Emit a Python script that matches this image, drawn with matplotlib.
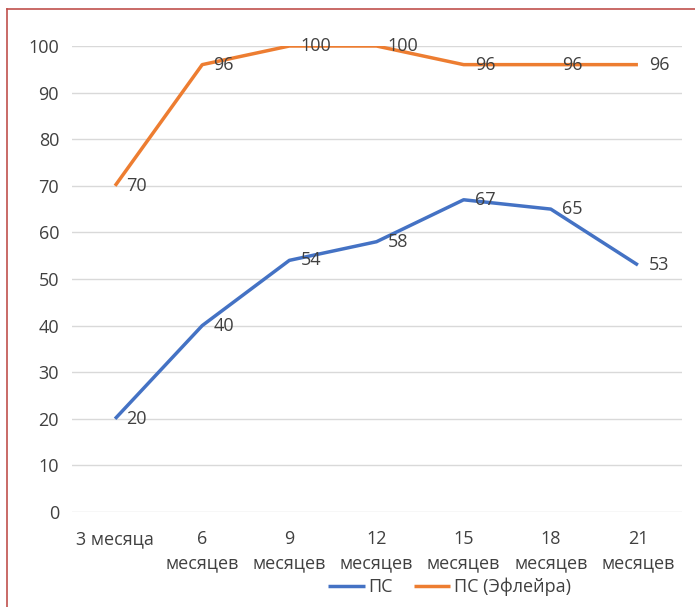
import matplotlib.pyplot as plt
from matplotlib.lines import Line2D

plt.rcParams['font.family'] = ['Open Sans', 'DejaVu Sans']

# Подписи по оси X и значения рядов
periods = ['3 месяца', '6\nмесяцев', '9\nмесяцев', '12\nмесяцев',
           '15\nмесяцев', '18\nмесяцев', '21\nмесяцев']
ps = [20, 40, 54, 58, 67, 65, 53]
ps_efleira = [70, 96, 100, 100, 96, 96, 96]

blue = '#4472C4'
orange = '#ED7D31'
text_color = '#404040'

fig = plt.figure(figsize=(6.95, 6.07), dpi=100)
ax = fig.add_axes([71.5 / 695, 1 - 512 / 607, 610 / 695, 466 / 607])

x = range(len(periods))
ax.plot(x, ps, color=blue, linewidth=2.5, label='ПС', solid_capstyle='butt')
ax.plot(x, ps_efleira, color=orange, linewidth=2.5, label='ПС (Эфлейра)',
        solid_capstyle='butt')

# Подписи значений справа от точек
for xi, v in zip(x, ps):
    ax.annotate(str(v), (xi, v), xytext=(8, 0), textcoords='offset points',
                va='center', ha='left', fontsize=13, color=text_color)
for xi, v in zip(x, ps_efleira):
    ax.annotate(str(v), (xi, v), xytext=(8, 0), textcoords='offset points',
                va='center', ha='left', fontsize=13, color=text_color)

ax.set_xlim(-0.5, len(periods) - 0.5)
ax.set_ylim(0, 100)
ax.set_yticks(range(0, 101, 10))
ax.set_xticks(list(x))
ax.set_xticklabels(periods, fontsize=13, color=text_color, va='top',
                   linespacing=1.45)
ax.tick_params(axis='y', labelsize=13, colors=text_color, length=0, pad=9)
ax.tick_params(axis='x', length=0, pad=13)
ax.grid(axis='y', color='#D9D9D9', linewidth=1)
ax.set_axisbelow(True)
for s in ax.spines.values():
    s.set_visible(False)

ax.legend(loc='lower center', bbox_to_anchor=(0.62, -0.215), ncol=2,
          frameon=False, fontsize=13, handlelength=2.0, handletextpad=0.2,
          columnspacing=1.2, labelcolor=text_color)

# Рамка диаграммы (видны верхний и левый края)
fig.add_artist(Line2D([7 / 695, 7 / 695], [0, 1 - 9 / 607], color='#C0504D',
                      linewidth=1.2, transform=fig.transFigure))
fig.add_artist(Line2D([7 / 695, 1], [1 - 9 / 607, 1 - 9 / 607], color='#C0504D',
                      linewidth=1.2, transform=fig.transFigure))

plt.savefig('out.png', dpi=100)
